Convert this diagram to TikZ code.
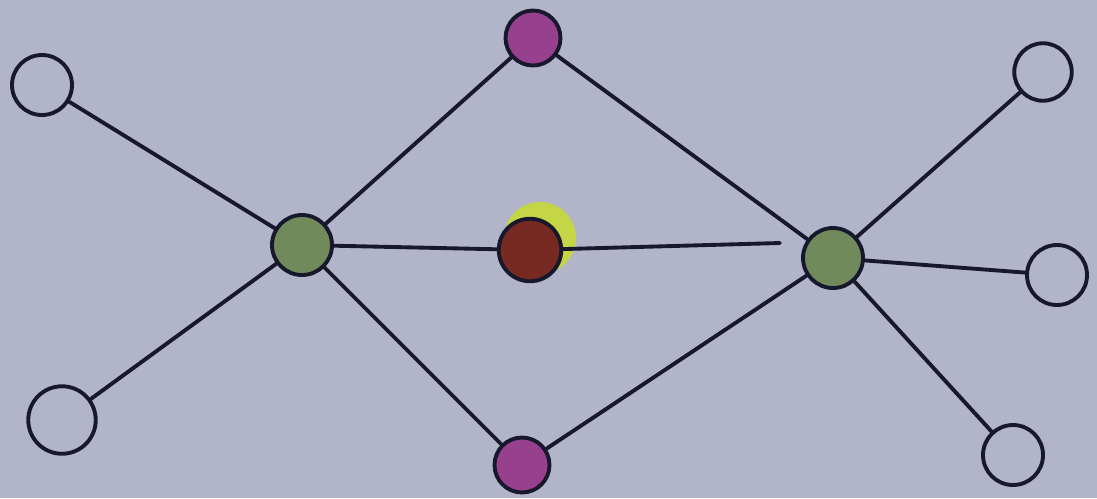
\documentclass[tikz,border=0pt]{standalone}
\usepackage{xcolor}
\usepackage{tikz}
\usetikzlibrary{positioning, calc}

\definecolor{paper}{RGB}{178,180,202}
\definecolor{ink}{RGB}{24,24,44}
\definecolor{leaf}{RGB}{112,138,92}
\definecolor{plum}{RGB}{150,64,142}
\definecolor{rust}{RGB}{118,42,34}
\definecolor{glow}{RGB}{196,214,70}

\begin{document}
\begin{tikzpicture}[
      x=0.02cm, y=-0.02cm,
      every node/.style={circle, draw=ink, line width=2.2pt, minimum size=1.2cm, inner sep=0pt},
      hub/.style={fill=leaf},
      tip/.style={fill=plum, minimum size=1.1cm},
      core/.style={fill=rust, minimum size=1.25cm},
      edge/.style={draw=ink, line width=2.2pt, line cap=round}
    ]
      \fill[paper] (0,0) rectangle (1097,498);
      \fill[glow] (540,238) circle (0.72cm);
      % nodes
      \node (tl) at (42,85) {};
      \node[minimum size=1.35cm] (bl) at (62,420) {};
      \node[hub] (lg) at (302,245) {};
      \node[tip] (tm) at (533,38) {};
      \node[core] (mid) at (530,250) {};
      \node[tip] (bm) at (522,465) {};
      \node[hub] (rg) at (833,258) {};
      \node[minimum size=1.15cm] (tr) at (1043,72) {};
      \node (rr) at (1057,275) {};
      \node (br) at (1013,455) {};
      \coordinate (gap) at (780,243);
      % edges
      \draw[edge] (tl) -- (lg);
      \draw[edge] (bl) -- (lg);
      \draw[edge] (lg) -- (tm);
      \draw[edge] (lg) -- (mid);
      \draw[edge] (lg) -- (bm);
      \draw[edge] (tm) -- (rg);
      \draw[edge] (mid) -- (gap);
      \draw[edge] (bm) -- (rg);
      \draw[edge] (rg) -- (tr);
      \draw[edge] (rg) -- (rr);
      \draw[edge] (rg) -- (br);
    \end{tikzpicture}
\end{document}
